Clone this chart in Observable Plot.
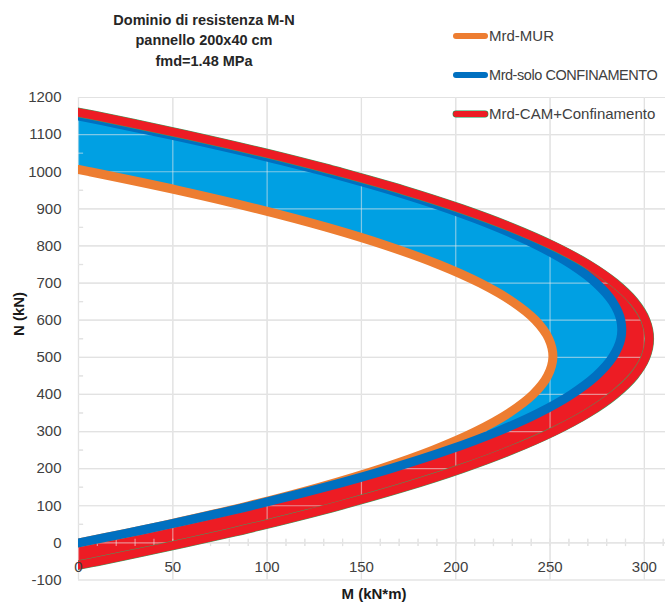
<!DOCTYPE html>
<html>
<head>
<meta charset="utf-8">
<script src="https://cdn.jsdelivr.net/npm/d3@7"></script>
<script src="https://cdn.jsdelivr.net/npm/@observablehq/plot@0.6"></script>
<style>
  html, body { margin: 0; padding: 0; background: #fff; }
  #wrap { position: relative; width: 666px; height: 603px; overflow: hidden; background: #fff;
          font-family: "Liberation Sans", Arial, sans-serif; }
  #chart { position: absolute; left: 0; top: 0; }
  .title { position: absolute; left: 84px; width: 240px; top: 10px; text-align: center;
           font-weight: bold; font-size: 14.5px; line-height: 20.3px; color: #262626; }
  .leg { position: absolute; left: 452px; height: 20px; line-height: 20px; font-size: 15px;
         color: #404040; white-space: nowrap; }
  .leg svg { position: absolute; left: 0; top: 0; }
  .leg span { position: absolute; left: 37px; top: 0; }
  .axt { position: absolute; font-weight: bold; font-size: 15px; color: #1a1a1a; white-space: nowrap;
         transform: translate(-50%, -50%); }
</style>
</head>
<body>
<div id="wrap">
  <div id="chart"></div>
  <div class="title">Dominio di resistenza M-N<br>pannello 200x40 cm<br>fmd=1.48 MPa</div>
  <div class="leg" style="top:26px"><svg width="40" height="20"><line x1="4" y1="10" x2="33" y2="10" stroke="#ED7D31" stroke-width="6" stroke-linecap="round"/></svg><span>Mrd-MUR</span></div>
  <div class="leg" style="top:65px"><svg width="40" height="20"><line x1="4" y1="10" x2="33" y2="10" stroke="#0070C0" stroke-width="6" stroke-linecap="round"/></svg><span style="font-size:14.5px; letter-spacing:-0.45px">Mrd-solo CONFINAMENTO</span></div>
  <div class="leg" style="top:104px"><svg width="40" height="20"><line x1="4" y1="10" x2="33" y2="10" stroke="#00A050" stroke-width="6.8" stroke-linecap="round"/><line x1="4" y1="10" x2="33" y2="10" stroke="#ED1C24" stroke-width="5.8" stroke-linecap="round"/></svg><span>Mrd-CAM+Confinamento</span></div>
  <div class="axt" style="left:18px; top:314px; transform: translate(-50%, -50%) rotate(-90deg);">N (kN)</div>
  <div class="axt" style="left:374px; top:593px;">M (kN*m)</div>
</div>
<script>
// Axial force N (kN) levels at which the three domains are read
const N_kN = [-60, -50, -25, 0, 25, 50, 100, 150, 200, 250, 300, 350, 400, 450, 500, 550, 600, 650, 700, 750, 800, 850, 900, 950, 1000, 1006, 1050, 1100, 1130, 1150, 1160];
// Bending moment M (kN*m) for each series at those N levels (null = outside the domain)
const M_MUR = [null, null, null, 0, 24.4, 47.5, 90.1, 127.6, 160.2, 187.9, 210.5, 228.2, 241.0, 248.7, 251.5, 249.3, 242.2, 230.0, 212.9, 190.9, 163.8, 131.8, 94.8, 52.9, 6.0, 0, null, null, null, null, null];
const M_CONF = [null, null, null, 0, 24.5, 47.9, 91.5, 130.7, 165.5, 196.0, 222.1, 243.9, 261.3, 274.4, 283.1, 287.5, 287.5, 283.1, 274.4, 261.3, 243.9, 222.1, 196.0, 165.5, 130.7, 126.2, 91.5, 47.9, 19.7, 0, null];
const M_CAM = [0, 9.8, 33.7, 56.6, 78.5, 99.3, 137.9, 172.5, 203.0, 229.4, 251.8, 270.1, 284.3, 294.5, 300.6, 302.6, 300.6, 294.5, 284.3, 270.1, 251.8, 229.4, 203.0, 172.5, 137.9, 133.5, 99.3, 56.6, 29.0, 9.8, 0];

// Axis ticks
const xTicks = [0, 50, 100, 150, 200, 250, 300];
const yTicks = [-100, 0, 100, 200, 300, 400, 500, 600, 700, 800, 900, 1000, 1100, 1200];
const xMinor = d3.range(10, 311, 10);
const yMinor = [-50, 50, 150, 250, 350, 450, 550, 650, 750, 850, 950, 1050, 1150];

const rows = N_kN.map((n, i) => ({N: n, mur: M_MUR[i], conf: M_CONF[i], cam: M_CAM[i]}));
const blueFill = rows.filter(d => d.conf != null).map(d => ({N: d.N, x1: d.mur ?? 0, x2: d.conf}));
const redFill = rows.map(d => ({N: d.N, x1: d.conf ?? 0, x2: d.cam}));
const murLine = rows.filter(d => d.mur != null);
const confLine = rows.filter(d => d.conf != null);

const gridColor = "#d9d9d9";
const gridMarks = (color, opacity) => [
  Plot.ruleY(yTicks, {y: d => d, stroke: color, strokeOpacity: opacity, strokeWidth: 1.2}),
  Plot.ruleX(xTicks, {x: d => d, stroke: color, strokeOpacity: opacity, strokeWidth: 1.2}),
  Plot.ruleX(xMinor, {x: d => d, y1: -10, y2: 10, stroke: color, strokeOpacity: opacity, strokeWidth: 1.2}),
  Plot.ruleY(yMinor, {y: d => d, x1: 0, x2: 2.7, stroke: color, strokeOpacity: opacity, strokeWidth: 1.2})
];

const chart = Plot.plot({
  width: 666,
  height: 603,
  marginLeft: 78,
  marginRight: 1,
  marginTop: 97,
  marginBottom: 23.5,
  x: {domain: [0, 311.2], axis: null},
  y: {domain: [-100, 1200], axis: null},
  style: {background: "transparent", fontFamily: "'Liberation Sans', Arial, sans-serif"},
  marks: [
    ...gridMarks(gridColor, 1),
    Plot.areaX(blueFill, {y: "N", x1: "x1", x2: "x2", fill: "#00A0E3", curve: "catmull-rom", clip: true}),
    Plot.areaX(redFill, {y: "N", x1: "x1", x2: "x2", fill: "#ED1C24", curve: "catmull-rom", clip: true}),
    ...gridMarks("#eaeaea", 0.55),
    Plot.line(murLine, {x: "mur", y: "N", stroke: "#ED7D31", strokeWidth: 9, curve: "catmull-rom", clip: true}),
    Plot.line(confLine, {x: "conf", y: "N", stroke: "#0070C0", strokeWidth: 9, curve: "catmull-rom", clip: true}),
    Plot.line(rows, {x: "cam", y: "N", stroke: "#3FA060", strokeWidth: 9.6, curve: "catmull-rom", clip: true}),
    Plot.line(rows, {x: "cam", y: "N", stroke: "#ED1C24", strokeWidth: 8.6, curve: "catmull-rom", clip: true}),
    Plot.text(yTicks, {x: 0, y: d => d, text: d => String(d), textAnchor: "end", dx: -17, fontSize: 15, fill: "#404040"}),
    Plot.text(xTicks, {x: d => d, y: 0, text: d => String(d), dy: 24, fontSize: 15, fill: "#404040"})
  ]
});
document.getElementById("chart").appendChild(chart);
</script>
</body>
</html>
